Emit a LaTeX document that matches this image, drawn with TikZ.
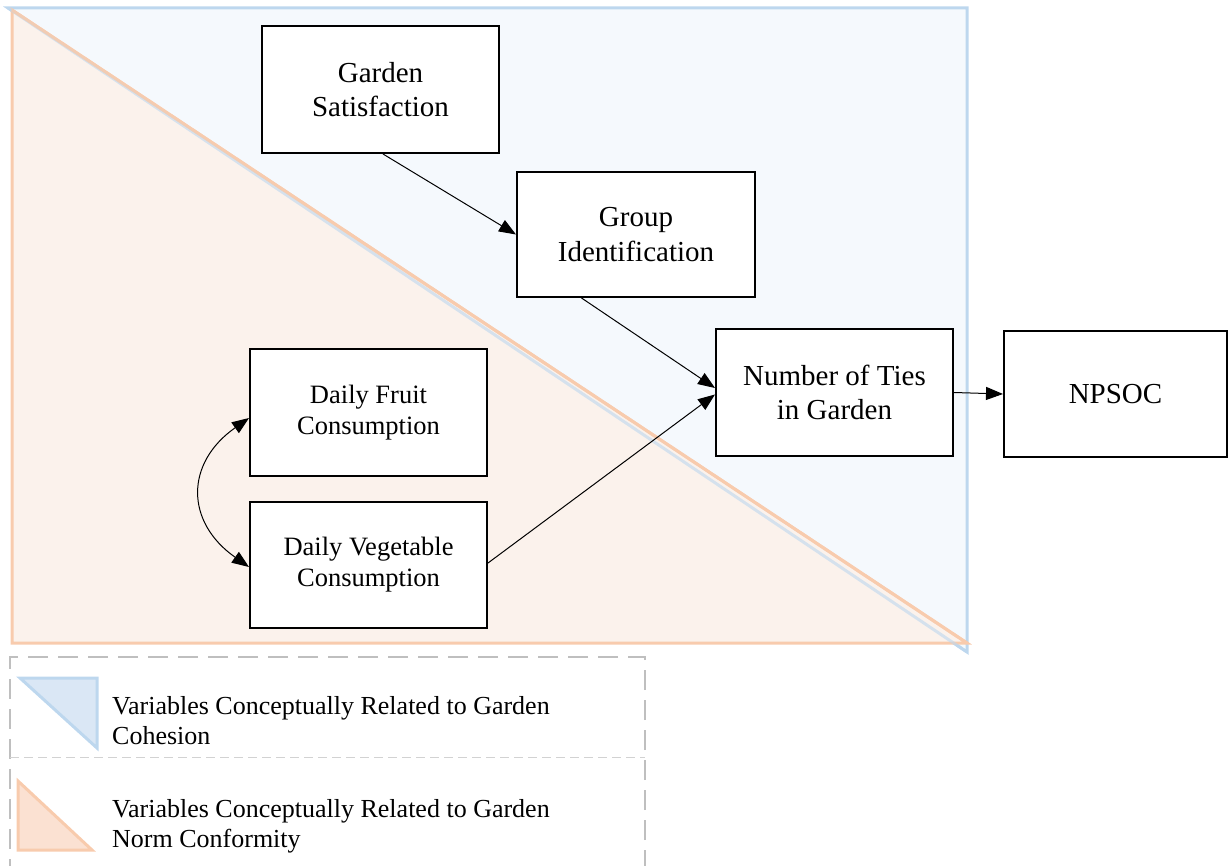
\documentclass[tikz,border=0pt]{standalone}
\usepackage{fontspec}
\setmainfont{Liberation Serif}
\usetikzlibrary{arrows.meta,calc}
\definecolor{bluefill}{HTML}{F5F9FD}
\definecolor{blueedge}{HTML}{BDD7EE}
\definecolor{orfill}{HTML}{FBF2EC}
\definecolor{oredge}{HTML}{F8CBAD}
\definecolor{bluelegend}{HTML}{DAE7F5}
\definecolor{orlegend}{HTML}{FBE1D2}
\definecolor{legendgray}{HTML}{BFBFBF}
\tikzset{
  varbox/.style={draw=black, line width=2pt, fill=white, align=center, inner sep=0pt,
    font=\fontsize{29}{34.5}\selectfont},
  smallbox/.style={varbox, font=\fontsize{26.5}{31}\selectfont},
  conn/.style={line width=1pt, -{Triangle[length=17pt,width=13pt]}},
  biconn/.style={line width=1pt, {Triangle[length=17pt,width=13pt]}-{Triangle[length=17pt,width=13pt]}},
  legendtext/.style={align=left, inner sep=0pt, font=\fontsize{26}{30}\selectfont},
}
\begin{document}
\begin{tikzpicture}[x=1pt,y=-1pt]
\useasboundingbox (0,0) rectangle (1228,866);
% background regions
\draw[fill=bluefill, draw=blueedge, line width=3pt, line join=miter] (8,8) -- (967,8) -- (967,652) -- cycle;
\draw[fill=orfill, draw=oredge, line width=3pt, line join=miter] (12,10) -- (12,643) -- (967,643) -- cycle;
\draw[draw=blueedge, line width=3pt, opacity=0.6] (8,8) -- (967,652);
\draw[draw=oredge, line width=3pt, opacity=0.8] (12,10) -- (967,643);
% nodes
\node[varbox, minimum width=237pt, minimum height=127pt] (gs) at (380.5,89.5) {Garden\\Satisfaction};
\node[varbox, minimum width=238pt, minimum height=125pt] (gi) at (636,234.5) {Group\\Identification};
\node[varbox, minimum width=237pt, minimum height=127pt] (nt) at (834.5,392.5) {Number of Ties\\in Garden};
\node[varbox, minimum width=223pt, minimum height=126pt] (np) at (1115.5,394) {NPSOC};
\node[smallbox, minimum width=237pt, minimum height=127pt] (df) at (368.5,412.5) {Daily Fruit\\Consumption};
\node[smallbox, minimum width=237pt, minimum height=126pt] (dv) at (368.5,565) {Daily Vegetable\\Consumption};
% connectors
\draw[conn] ([xshift=2.5pt]gs.south) -- (gi.west);
\draw[conn] ($(gi.south west)!0.273!(gi.south east)$) -- ([yshift=4.5pt]nt.west);
\draw[conn] ([yshift=2pt]dv.east) -- ([yshift=-2pt]nt.west);
\draw[conn] (nt.east) -- (np.west);
\draw[biconn] ([yshift=-5.5pt]df.west) .. controls +(-64,45) and +(-64,-45) .. ([yshift=-2pt]dv.west);
% legend
\draw[legendgray, line width=2pt, dash pattern=on 20pt off 10pt] (645,900) -- (645,657) -- (10,657) -- (10,900);
\draw[legendgray!70, line width=1pt, dash pattern=on 9pt off 5pt] (10,757) -- (645,757);
\draw[fill=bluelegend, draw=blueedge, line width=3pt] (20,678) -- (97,678) -- (97,748) -- cycle;
\draw[fill=orlegend, draw=oredge, line width=3pt] (18,781) -- (18,850) -- (92,850) -- cycle;
\node[legendtext, anchor=west] (l1) at (112,721) {Variables Conceptually Related to Garden\\Cohesion};
\node[legendtext, anchor=west] (l2) at (112,826) {Variables Conceptually Related to Garden\\Norm Conformity};
\end{tikzpicture}
\end{document}
